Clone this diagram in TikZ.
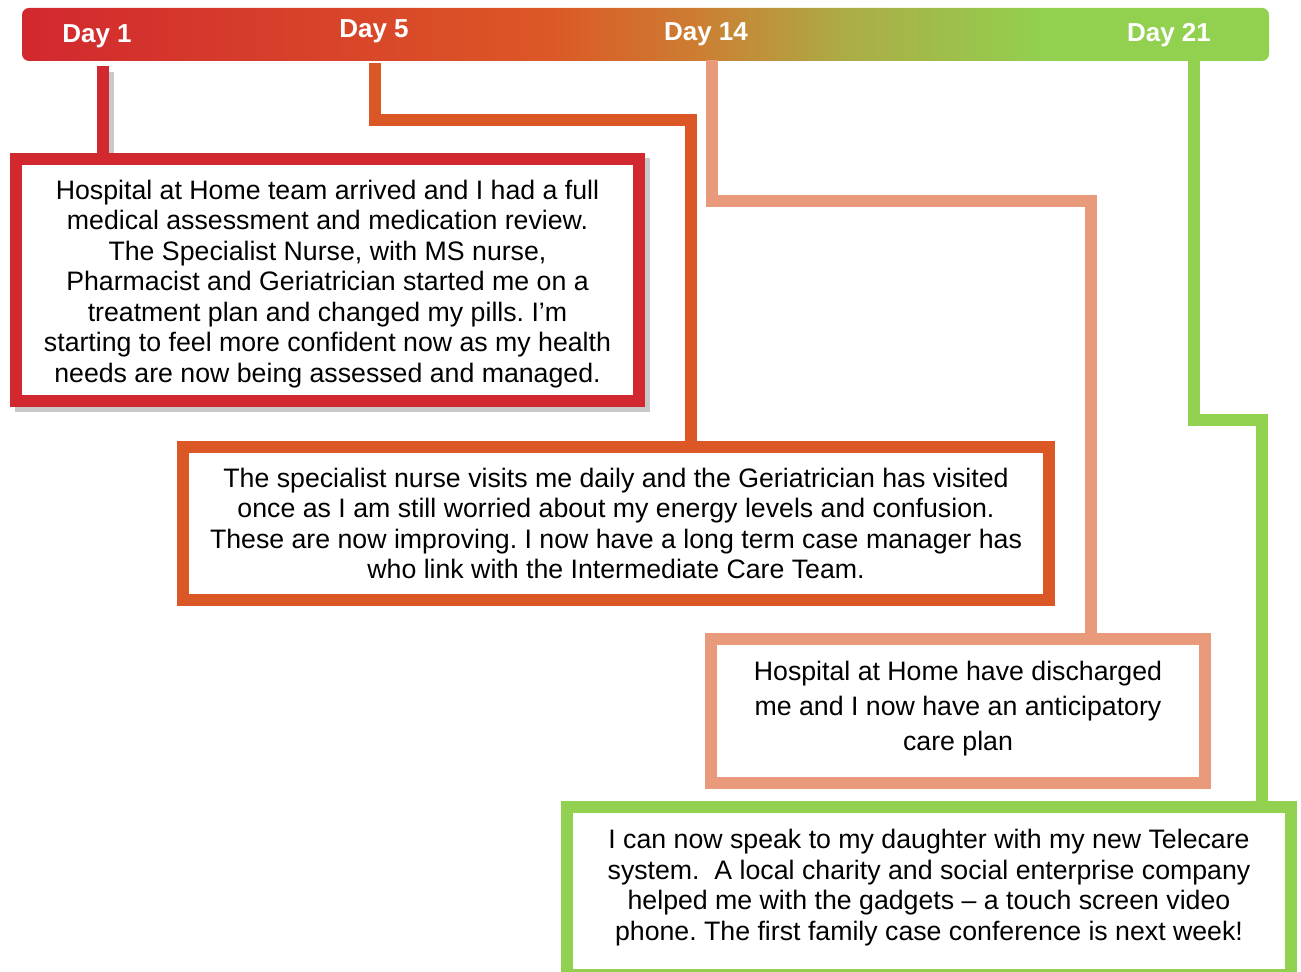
\documentclass[tikz,border=0pt]{standalone}
\usepackage{fontspec}
\setmainfont{Liberation Sans}
\usetikzlibrary{backgrounds}
\frenchspacing

\definecolor{dayred}{RGB}{210,40,47}
\definecolor{dayorange}{RGB}{220,87,38}
\definecolor{daybrown}{RGB}{205,125,50}
\definecolor{dayolive}{RGB}{172,172,70}
\definecolor{daysalmon}{RGB}{233,154,123}
\definecolor{daygreen}{RGB}{146,208,80}
\definecolor{shadowgray}{RGB}{200,200,200}

\newcommand{\pxl}{0.02cm}
\pgfdeclarehorizontalshading{daybar}{100bp}{color(0bp)=(dayred); color(25bp)=(dayred); color(46bp)=(dayorange); color(52bp)=(daybrown); color(58bp)=(dayolive); color(66bp)=(daygreen); color(100bp)=(daygreen)}

\begin{document}
\begin{tikzpicture}[x=\pxl,y=-\pxl,
  daylabel/.style={text=white,anchor=base,font=\bfseries\fontsize{14.8}{17}\selectfont},
  card/.style={draw,fill=white,text=black,line width=6.8pt,outer sep=0pt,inner sep=0pt,
    align=center,font=\fontsize{15.2}{17.4}\selectfont},
  link/.style={line width=6.8pt}]
\useasboundingbox (0,0) rectangle (1301,972);
\clip (0,0) rectangle (1301,972);

% time bar
\shade[shading=daybar,rounded corners=4pt] (22,8) rectangle (1269,61);
\node[daylabel] (day1) at (97,43) {Day 1};
\node[daylabel] (day5) at (374,38) {Day 5};
\node[daylabel] (day14) at (706,41) {Day 14};
\node[daylabel] (day21) at (1169,42) {Day 21};

% the four boxes (the rules only nudge the text up or down)
\node[card,draw=dayred,minimum width=623*\pxl,minimum height=242*\pxl] (box1) at (327.5,280)
  {\rule{0pt}{15.5pt}Hospital at Home team arrived and I had a full\\
   medical assessment and medication review.\\
   The Specialist Nurse, with MS nurse,\\
   Pharmacist and Geriatrician started me on a\\
   treatment plan and changed my pills. I’m\\
   starting to feel more confident now as my health\\
   needs are now being assessed and managed.};
\node[card,draw=dayorange,minimum width=866*\pxl,minimum height=153*\pxl] (box2) at (616,523.5)
  {The specialist nurse visits me daily and the Geriatrician has visited\\
   once as I am still worried about my energy levels and confusion.\\
   These are now improving. I now have a long term case manager has\\
   who link with the Intermediate Care Team.};
\node[card,draw=daysalmon,minimum width=494*\pxl,minimum height=144*\pxl,
  font=\fontsize{15.2}{19.8}\selectfont] (box3) at (958,711)
  {Hospital at Home have discharged\\
   me and I now have an anticipatory\\
   care plan\rule[-6pt]{0pt}{0pt}};
\node[card,draw=daygreen,minimum width=724*\pxl,minimum height=168*\pxl] (box4) at (929,891)
  {I can now speak to my daughter with my new Telecare\\
   system.~ A local charity and social enterprise company\\
   helped me with the gadgets – a touch screen video\\
   phone. The first family case conference is next week!\rule[-7.2pt]{0pt}{0pt}};

% connectors
\coordinate (t1) at (103,66);
\coordinate (t5) at (375,63);
\coordinate (k5) at (691,120);
\coordinate (t14) at (712,60);
\coordinate (k14) at (1091,201);
\coordinate (t21) at (1194,60);
\coordinate (k21) at (1262,420);
\draw[link,dayred] (t1) -- (t1 |- box1.north);
\draw[link,dayorange] (t5) |- (k5) -- (k5 |- box2.north);
\draw[link,daysalmon] (t14) |- (k14) -- (k14 |- box3.north);
\draw[link,daygreen] (t21) |- (k21) -- (k21 |- box4.north);

% grey shadow behind the first box
\begin{scope}[on background layer]
\fill[shadowgray] ([shift={(-1,-1)}]box1.north west) rectangle ([shift={(11,11)}]box1.south east);
\draw[link,shadowgray] (108,72) -- (108,160);
\end{scope}
\end{tikzpicture}
\end{document}
